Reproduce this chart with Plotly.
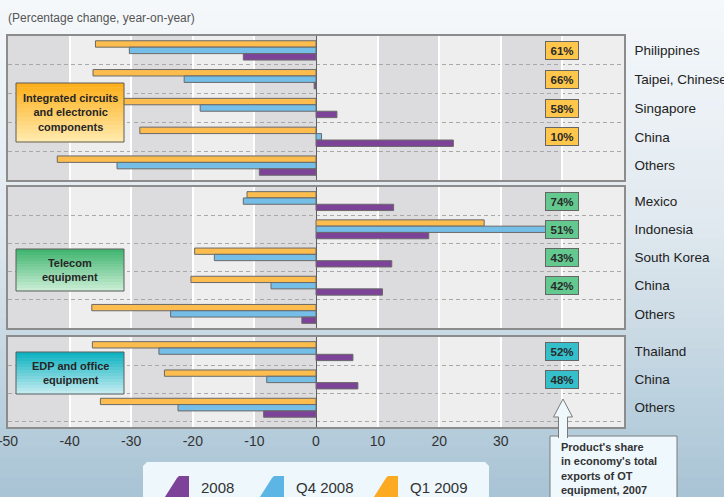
import plotly.graph_objects as go
from plotly.subplots import make_subplots

# figure geometry (px)
W, H = 724, 497
ML, MR, MT, MB = 8, 100, 36, 70
PW, PH = W - ML - MR, H - MT - MB

# ---- data -------------------------------------------------------------
ic_economies = ['Philippines', 'Taipei, Chinese', 'Singapore', 'China', 'Others']
ic_2008 = [-11.8, -0.3, 3.4, 22.3, -9.2]
ic_q4_2008 = [-30.3, -21.4, -18.8, 0.9, -32.3]
ic_q1_2009 = [-35.8, -36.2, -36.0, -28.6, -42.0]
ic_share = [61, 66, 58, 10, None]

tel_economies = ['Mexico', 'Indonesia', 'South Korea', 'China', 'Others']
tel_2008 = [12.6, 18.3, 12.3, 10.8, -2.3]
tel_q4_2008 = [-11.8, 38.0, -16.5, -7.3, -23.6]
tel_q1_2009 = [-11.2, 27.3, -19.7, -20.3, -36.4]
tel_share = [74, 51, 43, 42, None]

edp_economies = ['Thailand', 'China', 'Others']
edp_2008 = [6.0, 6.8, -8.5]
edp_q4_2008 = [-25.5, -8.0, -22.4]
edp_q1_2009 = [-36.3, -24.6, -35.0]
edp_share = [52, 48, None]

x_ticks = [-50, -40, -30, -20, -10, 0, 10, 20, 30, 40]
x_ticktext = ['-50', '-40', '-30', '-20', '-10', '0', '10', '20', '30', '']

FONT = 'Liberation Sans, Arial, sans-serif'
C_2008, C_Q4, C_Q1 = '#7d4399', '#74bee8', '#fcbd4e'

panels = [
    dict(names=ic_economies, q1=ic_q1_2009, q4=ic_q4_2008, y08=ic_2008, share=ic_share,
         box_col='#fec64a', yr=[4.5, -0.5], dom=[247 / 391, 1]),
    dict(names=tel_economies, q1=tel_q1_2009, q4=tel_q4_2008, y08=tel_2008, share=tel_share,
         box_col='#63c98f', yr=[4.5, -0.5], dom=[99 / 391, 240 / 391]),
    dict(names=edp_economies, q1=edp_q1_2009, q4=edp_q4_2008, y08=edp_2008, share=edp_share,
         box_col='#35bfca', yr=[2.68, -0.5], dom=[0, 90 / 391]),
]


def px_x(px):
    return (px - ML) / PW


def px_y(py):
    return (H - MB - py) / PH


def mix(c1, c2, t):
    a = [int(c1[i:i + 2], 16) for i in (1, 3, 5)]
    b = [int(c2[i:i + 2], 16) for i in (1, 3, 5)]
    return '#%02x%02x%02x' % tuple(round(a[k] + (b[k] - a[k]) * t) for k in range(3))


def grad_rect(fig, x0, y0, x1, y1, c_top, c_bot, n=14, layer='above', border=None):
    step = (y1 - y0) / n
    for i in range(n):
        fig.add_shape(type='rect', xref='paper', yref='paper', layer=layer,
                      x0=px_x(x0), x1=px_x(x1), y0=px_y(y0 + i * step), y1=px_y(y0 + (i + 1) * step + 0.6),
                      fillcolor=mix(c_top, c_bot, i / (n - 1)), line_width=0)
    if border:
        fig.add_shape(type='rect', xref='paper', yref='paper', layer=layer,
                      x0=px_x(x0), x1=px_x(x1), y0=px_y(y0), y1=px_y(y1),
                      line=dict(color=border, width=1))


def px_path(points, close=True):
    d = 'M ' + ' L '.join('%.5f,%.5f' % (px_x(a), px_y(b)) for a, b in points)
    return d + (' Z' if close else '')


def label(fig, x, y, text, size, color, xanchor='center', yanchor='middle', align='center'):
    fig.add_annotation(xref='paper', yref='paper', x=px_x(x), y=px_y(y), xanchor=xanchor, yanchor=yanchor,
                       align=align, showarrow=False, text=text,
                       font=dict(family=FONT, size=size, color=color))


fig = make_subplots(rows=3, cols=1, shared_xaxes=True, vertical_spacing=0.02)

# page background gradient
bg_stops = [(0, '#f5f8fb'), (0.45, '#e0e9ef'), (1, '#a9c4d5')]
n_strips = 50
for i in range(n_strips):
    t = i / (n_strips - 1)
    for (t0, c0), (t1, c1) in zip(bg_stops[:-1], bg_stops[1:]):
        if t0 <= t <= t1:
            col = mix(c0, c1, (t - t0) / (t1 - t0))
            break
    y0 = H * i / n_strips
    fig.add_shape(type='rect', xref='paper', yref='paper', layer='below',
                  x0=px_x(0), x1=px_x(W), y0=px_y(y0), y1=px_y(y0 + H / n_strips + 1),
                  fillcolor=col, line_width=0)

for r, p in enumerate(panels, start=1):
    pos = list(range(len(p['names'])))
    # panel background and vertical bands
    fig.add_shape(type='rect', x0=-50, x1=50, y0=p['yr'][1], y1=p['yr'][0], layer='below',
                  fillcolor='#eeeeef', line_width=0, row=r, col=1)
    for b in range(-50, 50, 20):
        fig.add_shape(type='rect', x0=b, x1=b + 10, y0=p['yr'][1], y1=p['yr'][0], layer='below',
                      fillcolor='#dcdcde', line_width=0, row=r, col=1)
    for name, vals, col in [('Q1 2009', p['q1'], C_Q1), ('Q4 2008', p['q4'], C_Q4), ('2008', p['y08'], C_2008)]:
        fig.add_trace(go.Bar(x=vals, y=pos, orientation='h', name=name, showlegend=False,
                             marker=dict(color=col, line=dict(color='#6a6a6a', width=1))),
                      row=r, col=1)
    for i, s in enumerate(p['share']):
        if s is None:
            continue
        fig.add_annotation(x=40, y=i, text='<b>%d%%</b>' % s, showarrow=False, row=r, col=1,
                           font=dict(family=FONT, size=11.5, color='#2a2a2a'),
                           bgcolor=p['box_col'], bordercolor='#666', borderwidth=1, borderpad=1,
                           width=30, height=15)
    minor_vals = [k + 0.5 for k in range(len(p['names']) - 1)]
    if r == 3:
        minor_vals.append(len(p['names']) - 0.5)
    fig.update_yaxes(row=r, col=1, domain=p['dom'], range=p['yr'], tickvals=pos, ticktext=p['names'],
                     side='right', showgrid=False, zeroline=False, ticks='', ticklabelstandoff=6,
                     automargin=False, ticklabeloverflow='allow',
                     tickfont=dict(family=FONT, size=13.5, color='#222'),
                     showline=True, mirror=True, linecolor='#8c8c8c', linewidth=1.5,
                     minor=dict(tickvals=minor_vals, showgrid=True, gridcolor='#a8a8a8',
                                griddash='4px,3px', gridwidth=1, ticks=''))

fig.update_xaxes(range=[-50, 50], tickvals=x_ticks, ticktext=x_ticktext, showgrid=True, automargin=False,
                 ticklabeloverflow='allow',
                 gridcolor='white', gridwidth=2, zeroline=True, zerolinecolor='#5e5e5e',
                 zerolinewidth=1, showline=True, mirror=True, linecolor='#8c8c8c', linewidth=1.5,
                 ticks='', tickfont=dict(family=FONT, size=14, color='#333'))

# product group labels
groups = [
    ('<b>Integrated circuits<br>and electronic<br>components</b>', 83, 142, '#fdb01c', '#ffe9ab'),
    ('<b>Telecom<br>equipment</b>', 249, 291, '#42b671', '#c8ecd3'),
    ('<b>EDP and office<br>equipment</b>', 352, 394, '#0db3c1', '#c2ebf0'),
]
for text, y0, y1, ct, cb in groups:
    grad_rect(fig, 16, y0, 124, y1, ct, cb, border='#5c5c5c')
    label(fig, 70, (y0 + y1) / 2, text, 11, '#262626')

# callout for the share boxes
fig.add_shape(type='rect', xref='paper', yref='paper', layer='above',
              x0=px_x(550), x1=px_x(677), y0=px_y(436), y1=px_y(505),
              fillcolor='#eef8fd', line=dict(color='#7a7a7a', width=1))
fig.add_shape(type='path', xref='paper', yref='paper', layer='above',
              path=px_path([(567.5, 438), (567.5, 417), (572.5, 417), (563, 399),
                            (553.5, 417), (558.5, 417), (558.5, 438)], close=False),
              fillcolor='#eef8fd', line=dict(color='#7a7a7a', width=1))
label(fig, 559, 439, "<b>Product's share<br>in economy's total<br>exports of OT<br>equipment, 2007</b>",
      11, '#333', xanchor='left', yanchor='top', align='left')

# legend
fig.add_shape(type='path', xref='paper', yref='paper', layer='above',
              path=px_path([(143, 505), (143, 466), (147, 462), (485, 462), (489, 466), (489, 505)]),
              fillcolor='#edf7fc', line_width=0)
for name, col, x_icon in [('2008', C_2008, 163), ('Q4 2008', '#5db5e6', 258), ('Q1 2009', '#fbaa22', 372)]:
    fig.add_shape(type='path', xref='paper', yref='paper', layer='above',
                  path=px_path([(x_icon, 500), (x_icon + 14, 478), (x_icon + 16, 476),
                                (x_icon + 26, 476), (x_icon + 26, 500)]),
                  fillcolor=col, line_width=0)
    label(fig, x_icon + 36, 488, name, 15, '#333', xanchor='left')

label(fig, 6, 18, '(Percentage change, year-on-year)', 12, '#555', xanchor='left')

fig.update_layout(width=W, height=H, margin=dict(l=ML, r=MR, t=MT, b=MB),
                  barmode='group', bargap=0.33, bargroupgap=0,
                  paper_bgcolor='#dde7ee', plot_bgcolor='rgba(0,0,0,0)',
                  font=dict(family=FONT), showlegend=False)

fig.write_html('out.html', config={'displayModeBar': False},
               post_script="document.body.style.margin='0';document.body.style.padding='0';")
